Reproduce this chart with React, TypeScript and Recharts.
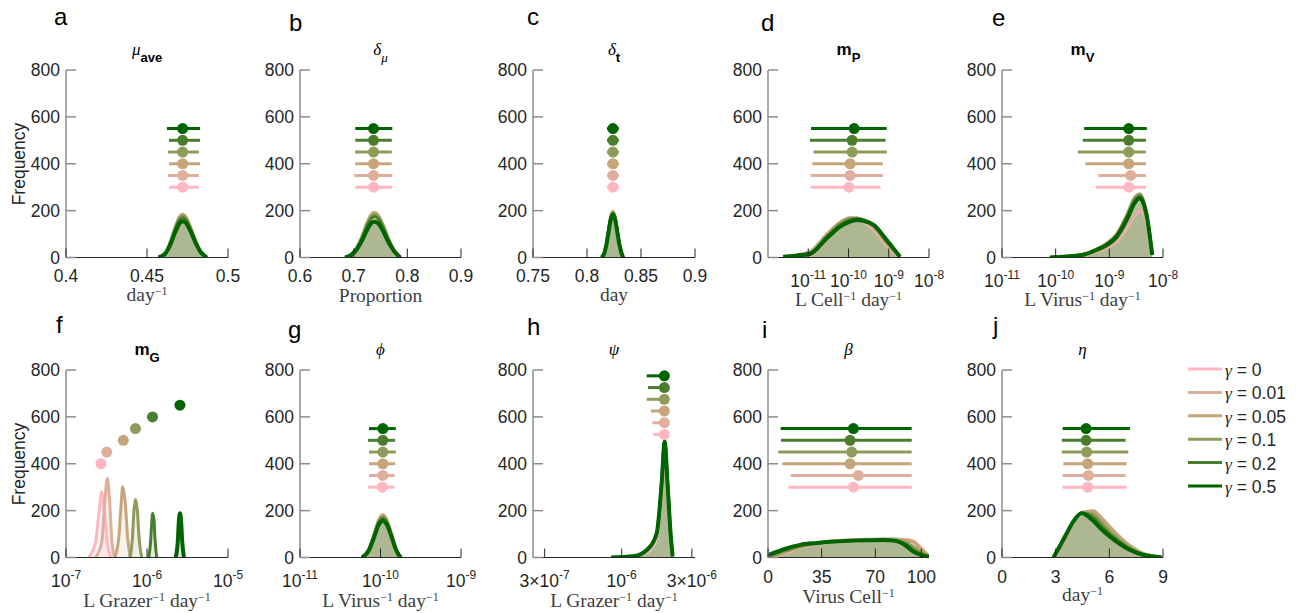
import React from 'react';
import { ComposedChart, Area, Line, Scatter, ErrorBar, XAxis, YAxis } from 'recharts';

const GAMMAS = ['0', '0.01', '0.05', '0.1', '0.2', '0.5'];
const COLORS = ['#FFB6C1', '#DFAE9C', '#C6A57B', '#8F9B5A', '#4A7E2E', '#006400'];
const FREQ_TICKS = [0, 200, 400, 600, 800];
const ROWS_STD = [300, 350, 400, 450, 500, 550];
const ROWS_F = [400, 450, 500, 550, 600, 650];
const ROWS_H = [525, 575, 625, 675, 725, 775];

const SANS = '"Liberation Sans", Arial, sans-serif';
const SERIF = '"Liberation Serif", "DejaVu Serif", serif';

// a: mu_ave
const A_X = [0.457, 0.461, 0.464, 0.467, 0.47, 0.472, 0.474, 0.477, 0.48, 0.483, 0.487];
const A_Y = [
  [0, 16, 54, 110, 158, 168, 158, 116, 64, 25, 0],
  [0, 17, 57, 116, 166, 176, 166, 122, 68, 26, 0],
  [0, 18, 60, 122, 174, 185, 174, 128, 72, 28, 0],
  [0, 17, 58, 118, 168, 178, 168, 124, 70, 28, 0],
  [0, 16, 55, 112, 160, 170, 160, 118, 66, 26, 0],
  [0, 14, 48, 100, 145, 155, 148, 110, 62, 24, 0],
];
const A_MID = [0.472, 0.472, 0.472, 0.472, 0.472, 0.472];
const A_LO = [0.4636, 0.463, 0.4636, 0.463, 0.4636, 0.4623];
const A_HI = [0.482, 0.482, 0.4827, 0.482, 0.4827, 0.4827];

// b: delta_mu
const B_X = [0.684, 0.695, 0.705, 0.715, 0.725, 0.732, 0.739, 0.746, 0.755, 0.765, 0.775, 0.787];
const B_Y = [
  [0, 11, 36, 80, 136, 166, 176, 166, 129, 75, 31, 0],
  [0, 11, 38, 85, 143, 175, 185, 174, 135, 78, 32, 0],
  [0, 12, 40, 88, 150, 182, 193, 181, 140, 80, 33, 0],
  [0, 12, 38, 84, 142, 173, 183, 172, 133, 77, 32, 0],
  [0, 11, 36, 80, 135, 165, 175, 165, 128, 74, 31, 0],
  [0, 10, 32, 70, 118, 145, 153, 145, 112, 65, 28, 0],
];
const B_MID = [0.737, 0.737, 0.737, 0.737, 0.737, 0.737];
const B_LO = [0.703, 0.701, 0.703, 0.703, 0.703, 0.703];
const B_HI = [0.771, 0.772, 0.771, 0.771, 0.771, 0.772];

// c: delta_t
const C_X = [0.8135, 0.816, 0.818, 0.82, 0.822, 0.824, 0.826, 0.828, 0.83, 0.832, 0.8335];
const C_Y = [
  [0, 19, 58, 116, 170, 190, 170, 116, 58, 19, 0],
  [0, 19, 59, 118, 173, 194, 173, 118, 59, 19, 0],
  [0, 20, 60, 120, 176, 197, 176, 120, 60, 20, 0],
  [0, 19, 58, 117, 172, 192, 172, 117, 58, 19, 0],
  [0, 19, 57, 114, 168, 188, 168, 114, 57, 19, 0],
  [0, 18, 55, 110, 162, 182, 162, 110, 55, 18, 0],
];
const C_MID = [0.824, 0.824, 0.824, 0.824, 0.824, 0.824];
const C_LO = [0.8185, 0.8185, 0.8185, 0.8185, 0.8185, 0.8185];
const C_HI = [0.8295, 0.8295, 0.8295, 0.8295, 0.8295, 0.8295];

// d: m_P
const D_X = [2.4e-12, 5e-12, 1.1e-11, 2.9e-11, 6.2e-11, 1.05e-10, 1.6e-10, 2.5e-10, 4.2e-10, 8.9e-10, 1.9e-9];
const D_Y = [
  [3, 10, 25, 100, 150, 168, 165, 150, 120, 50, 2],
  [3, 10, 25, 100, 150, 168, 166, 152, 124, 55, 2],
  [3, 10, 24, 98, 150, 170, 170, 158, 130, 60, 2],
  [3, 9, 20, 92, 145, 165, 168, 160, 135, 65, 3],
  [3, 9, 18, 88, 140, 160, 165, 158, 137, 70, 3],
  [3, 8, 15, 82, 132, 152, 160, 155, 139, 75, 3],
];
const D_MID = [1.02e-10, 1.1e-10, 1.1e-10, 1.23e-10, 1.23e-10, 1.38e-10];
const D_LO = [1.15e-11, 1.15e-11, 1.26e-11, 1.35e-11, 1.1e-11, 1.17e-11];
const D_HI = [6.3e-10, 7.1e-10, 7.1e-10, 8.9e-10, 8.3e-10, 8.9e-10];

// e: m_V
const E_X = [7.8e-11, 1.6e-10, 3.3e-10, 5.8e-10, 8.9e-10, 1.38e-9, 2.1e-9, 3.0e-9, 3.7e-9, 5.0e-9, 6.3e-9];
const E_Y = [
  [0, 3, 9, 24, 40, 68, 125, 180, 200, 148, 10],
  [0, 3, 10, 25, 42, 72, 130, 185, 205, 150, 10],
  [0, 5, 14, 36, 60, 102, 180, 258, 272, 185, 12],
  [0, 5, 14, 36, 60, 100, 178, 255, 268, 182, 12],
  [0, 4, 13, 34, 56, 95, 170, 245, 262, 180, 12],
  [0, 4, 12, 32, 53, 89, 160, 235, 253, 174, 11],
];
const E_MID = [2.3e-9, 2.5e-9, 2.3e-9, 2.3e-9, 2.3e-9, 2.3e-9];
const E_LO = [5.6e-10, 6.2e-10, 3.6e-10, 2.6e-10, 3.2e-10, 3.4e-10];
const E_HI = [4.8e-9, 4.8e-9, 4.8e-9, 4.8e-9, 4.8e-9, 5.0e-9];

// f: m_G (each gamma has its own support)
const F_X = [
  [1.9e-7, 2.3e-7, 2.57e-7, 2.75e-7, 2.95e-7, 3.24e-7, 3.55e-7],
  [2.3e-7, 2.75e-7, 3.0e-7, 3.24e-7, 3.47e-7, 3.7e-7, 4.0e-7],
  [4.0e-7, 4.5e-7, 4.8e-7, 5.0e-7, 5.4e-7, 5.75e-7, 6.2e-7],
  [6.2e-7, 6.6e-7, 6.9e-7, 7.2e-7, 7.6e-7, 8.0e-7, 8.6e-7],
  [1.05e-6, 1.11e-6, 1.15e-6, 1.17e-6, 1.22e-6, 1.26e-6, 1.32e-6],
  [2.26e-6, 2.4e-6, 2.48e-6, 2.55e-6, 2.63e-6, 2.72e-6, 2.86e-6],
];
const F_Y = [
  [0, 60, 200, 280, 210, 60, 0],
  [0, 60, 230, 338, 230, 60, 0],
  [0, 90, 230, 302, 230, 90, 0],
  [0, 80, 200, 248, 200, 80, 0],
  [0, 70, 160, 189, 160, 70, 0],
  [0, 70, 160, 189, 160, 70, 0],
];
const F_MID = [2.7e-7, 3.18e-7, 5.1e-7, 7.2e-7, 1.17e-6, 2.55e-6];
const F_LO = [2.45e-7, 2.95e-7, 4.9e-7, 7.0e-7, 1.15e-6, 2.5e-6];
const F_HI = [2.8e-7, 3.6e-7, 5.3e-7, 7.4e-7, 1.2e-6, 2.6e-6];

// g: phi
const G_X = [5.9e-11, 7.1e-11, 8.3e-11, 9.5e-11, 1.07e-10, 1.2e-10, 1.38e-10, 1.58e-10, 1.78e-10];
const G_Y = [
  [0, 31, 95, 156, 176, 156, 95, 31, 0],
  [0, 32, 97, 159, 180, 159, 97, 32, 0],
  [0, 32, 98, 161, 182, 161, 98, 32, 0],
  [0, 31, 94, 154, 174, 154, 94, 31, 0],
  [0, 30, 90, 148, 167, 148, 90, 30, 0],
  [0, 28, 85, 140, 157, 140, 85, 28, 0],
];
const G_MID = [1.05e-10, 1.07e-10, 1.07e-10, 1.07e-10, 1.07e-10, 1.07e-10];
const G_LO = [7.0e-11, 7.2e-11, 7.2e-11, 7.2e-11, 7.0e-11, 7.2e-11];
const G_HI = [1.5e-10, 1.5e-10, 1.52e-10, 1.55e-10, 1.52e-10, 1.55e-10];

// h: psi
const H_X = [8.5e-7, 1.2e-6, 1.48e-6, 1.73e-6, 1.87e-6, 1.96e-6, 2.05e-6, 2.15e-6, 2.22e-6];
const H_Y = [
  [0, 3, 20, 80, 280, 420, 300, 90, 5],
  [0, 4, 24, 90, 300, 460, 310, 95, 5],
  [0, 4, 28, 100, 320, 500, 320, 100, 5],
  [0, 4, 28, 100, 318, 495, 318, 100, 5],
  [0, 5, 30, 102, 318, 495, 318, 102, 5],
  [0, 5, 32, 103, 317, 494, 317, 103, 5],
];
const H_MID = [1.95e-6, 1.95e-6, 1.95e-6, 1.95e-6, 1.95e-6, 1.95e-6];
const H_LO = [1.64e-6, 1.62e-6, 1.58e-6, 1.48e-6, 1.51e-6, 1.48e-6];
const H_HI = [2.1e-6, 2.1e-6, 2.1e-6, 2.1e-6, 2.1e-6, 2.1e-6];

// i: beta
const I_X = [0, 6, 12, 21, 32, 43, 55, 65, 75, 82, 86, 90, 95, 100, 105];
const I_Y = [
  [0, 8, 20, 40, 58, 68, 74, 77, 78, 78, 77, 76, 70, 40, 5],
  [0, 9, 22, 42, 60, 70, 76, 78, 79, 79, 78, 76, 68, 38, 5],
  [0, 10, 24, 44, 60, 70, 75, 77, 78, 78, 76, 74, 65, 35, 5],
  [2, 14, 28, 47, 60, 68, 73, 75, 76, 75, 72, 65, 45, 22, 4],
  [6, 20, 34, 51, 61, 68, 72, 74, 75, 73, 68, 56, 32, 14, 3],
  [10, 25, 39, 54, 62, 68, 72, 74, 75, 72, 65, 50, 24, 10, 3],
];
const I_MID = [55.7, 58.9, 53.5, 54.6, 53.5, 55.7];
const I_LO = [13.3, 14.8, 9.3, 6.7, 8.5, 8.3];
const I_HI = [93.7, 93.7, 93.7, 93.7, 93.7, 93.7];

// j: eta
const J_X = [2.87, 3.2, 3.61, 4.0, 4.45, 5.1, 5.5, 6.04, 6.5, 6.97, 7.4, 7.9, 8.4, 8.93];
const J_Y = [
  [0, 36, 90, 148, 185, 190, 162, 120, 86, 55, 33, 16, 7, 0],
  [0, 38, 92, 150, 190, 195, 168, 125, 90, 58, 35, 17, 7, 0],
  [0, 35, 90, 150, 192, 200, 175, 131, 95, 62, 38, 18, 8, 0],
  [0, 40, 96, 152, 190, 185, 155, 112, 80, 50, 30, 14, 6, 0],
  [0, 42, 100, 154, 190, 172, 140, 100, 72, 45, 27, 12, 5, 0],
  [0, 45, 103, 155, 189, 157, 125, 89, 62, 39, 24, 11, 5, 0],
];
const J_MID = [4.79, 4.83, 4.79, 4.73, 4.7, 4.7];
const J_LO = [3.39, 3.39, 3.43, 3.34, 3.34, 3.39];
const J_HI = [6.97, 6.91, 6.97, 7.06, 6.91, 7.15];

type Seg = { t: string; kind?: 'it' | 'bold'; sub?: boolean; sup?: boolean };

type PanelDef = {
  letter: string;
  letterX: number;
  letterY: number;
  left: number;
  top: number;
  width: number;
  domain: [number, number];
  log?: boolean;
  ticks: number[];
  tickLabels: string[];
  tickY: number;
  xs: number[][];
  ys: number[][];
  mid: number[];
  lo: number[];
  hi: number[];
  rows: number[];
  title: Seg[];
  xlabel: Seg[];
  xlabelY: number;
};

const same = (a: number[]) => [a, a, a, a, a, a];
const dayInv: Seg[] = [{ t: 'day' }, { t: '−1', sup: true }];
const perDay = (what: string): Seg[] => [
  { t: 'L ' + what },
  { t: '−1', sup: true },
  { t: ' day' },
  { t: '−1', sup: true },
];

const PANELS: PanelDef[] = [
  {
    letter: 'a', letterX: 54, letterY: 25, left: 66, top: 0, width: 162,
    domain: [0.4, 0.5], ticks: [0.4, 0.45, 0.5], tickLabels: ['0.4', '0.45', '0.5'], tickY: 282,
    xs: same(A_X), ys: A_Y, mid: A_MID, lo: A_LO, hi: A_HI, rows: ROWS_STD,
    title: [{ t: 'μ', kind: 'it' }, { t: 'ave', kind: 'bold', sub: true }],
    xlabel: dayInv, xlabelY: 301,
  },
  {
    letter: 'b', letterX: 289, letterY: 31, left: 300, top: 0, width: 161,
    domain: [0.6, 0.9], ticks: [0.6, 0.7, 0.8, 0.9], tickLabels: ['0.6', '0.7', '0.8', '0.9'], tickY: 282,
    xs: same(B_X), ys: B_Y, mid: B_MID, lo: B_LO, hi: B_HI, rows: ROWS_STD,
    title: [{ t: 'δ', kind: 'it' }, { t: 'μ', kind: 'it', sub: true }],
    xlabel: [{ t: 'Proportion' }], xlabelY: 302,
  },
  {
    letter: 'c', letterX: 527, letterY: 25, left: 533, top: 0, width: 162,
    domain: [0.75, 0.9], ticks: [0.75, 0.8, 0.85, 0.9], tickLabels: ['0.75', '0.8', '0.85', '0.9'], tickY: 282,
    xs: same(C_X), ys: C_Y, mid: C_MID, lo: C_LO, hi: C_HI, rows: ROWS_STD,
    title: [{ t: 'δ', kind: 'it' }, { t: 't', kind: 'bold', sub: true }],
    xlabel: [{ t: 'day' }], xlabelY: 301,
  },
  {
    letter: 'd', letterX: 761, letterY: 31, left: 768, top: 0, width: 161, log: true,
    domain: [1e-12, 1e-8], ticks: [1e-11, 1e-10, 1e-9, 1e-8],
    tickLabels: ['10^-11', '10^-10', '10^-9', '10^-8'], tickY: 287,
    xs: same(D_X), ys: D_Y, mid: D_MID, lo: D_LO, hi: D_HI, rows: ROWS_STD,
    title: [{ t: 'm', kind: 'bold' }, { t: 'P', kind: 'bold', sub: true }],
    xlabel: perDay('Cell'), xlabelY: 306,
  },
  {
    letter: 'e', letterX: 992, letterY: 26, left: 1002, top: 0, width: 161, log: true,
    domain: [1e-11, 1e-8], ticks: [1e-11, 1e-10, 1e-9, 1e-8],
    tickLabels: ['10^-11', '10^-10', '10^-9', '10^-8'], tickY: 287,
    xs: same(E_X), ys: E_Y, mid: E_MID, lo: E_LO, hi: E_HI, rows: ROWS_STD,
    title: [{ t: 'm', kind: 'bold' }, { t: 'V', kind: 'bold', sub: true }],
    xlabel: perDay('Virus'), xlabelY: 306,
  },
  {
    letter: 'f', letterX: 56, letterY: 333, left: 66, top: 300, width: 162, log: true,
    domain: [1e-7, 1e-5], ticks: [1e-7, 1e-6, 1e-5], tickLabels: ['10^-7', '10^-6', '10^-5'], tickY: 587,
    xs: F_X, ys: F_Y, mid: F_MID, lo: F_LO, hi: F_HI, rows: ROWS_F,
    title: [{ t: 'm', kind: 'bold' }, { t: 'G', kind: 'bold', sub: true }],
    xlabel: perDay('Grazer'), xlabelY: 607,
  },
  {
    letter: 'g', letterX: 288, letterY: 338, left: 300, top: 300, width: 161, log: true,
    domain: [1e-11, 1e-9], ticks: [1e-11, 1e-10, 1e-9], tickLabels: ['10^-11', '10^-10', '10^-9'], tickY: 587,
    xs: same(G_X), ys: G_Y, mid: G_MID, lo: G_LO, hi: G_HI, rows: ROWS_STD,
    title: [{ t: 'ϕ', kind: 'it' }],
    xlabel: perDay('Virus'), xlabelY: 607,
  },
  {
    letter: 'h', letterX: 527, letterY: 335, left: 533, top: 300, width: 162, log: true,
    domain: [2.5e-7, 3.15e-6], ticks: [3e-7, 1e-6, 3e-6], tickLabels: ['3×10^-7', '10^-6', '3×10^-6'], tickY: 587,
    xs: same(H_X), ys: H_Y, mid: H_MID, lo: H_LO, hi: H_HI, rows: ROWS_H,
    title: [{ t: 'ψ', kind: 'it' }],
    xlabel: perDay('Grazer'), xlabelY: 607,
  },
  {
    letter: 'i', letterX: 762, letterY: 338, left: 768, top: 300, width: 161,
    domain: [0, 105], ticks: [0, 35, 70, 100], tickLabels: ['0', '35', '70', '100'], tickY: 583,
    xs: same(I_X), ys: I_Y, mid: I_MID, lo: I_LO, hi: I_HI, rows: ROWS_STD,
    title: [{ t: 'β', kind: 'it' }],
    xlabel: [{ t: 'Virus Cell' }, { t: '−1', sup: true }], xlabelY: 603,
  },
  {
    letter: 'j', letterX: 993, letterY: 334, left: 1002, top: 300, width: 161,
    domain: [0, 9], ticks: [0, 3, 6, 9], tickLabels: ['0', '3', '6', '9'], tickY: 583,
    xs: same(J_X), ys: J_Y, mid: J_MID, lo: J_LO, hi: J_HI, rows: ROWS_STD,
    title: [{ t: 'η', kind: 'it' }],
    xlabel: dayInv, xlabelY: 601,
  },
];

function XTick(props: any) {
  const { x, y, payload, p } = props;
  const i = p.ticks.indexOf(payload.value);
  const label: string = i >= 0 ? p.tickLabels[i] : String(payload.value);
  const [base, exp] = label.split('^');
  return (
    <g>
      <line x1={x} x2={x} y1={y} y2={y - 9} stroke="#262626" strokeWidth={1} />
      <text x={x} y={p.tickY - p.top} textAnchor="middle" fontFamily={SANS} fontSize={17.5} fill="#262626">
        {base}
        {exp && (
          <tspan dy={-8} fontSize={12}>
            {exp}
          </tspan>
        )}
      </text>
    </g>
  );
}

function YTick(props: any) {
  const { x, y, payload } = props;
  return (
    <g>
      <line x1={x} x2={x + 10} y1={y} y2={y} stroke="#8c8c8c" strokeWidth={1.5} />
      <text x={x - 6} y={y + 6} textAnchor="end" fontFamily={SANS} fontSize={17.5} fill="#262626">
        {payload.value}
      </text>
    </g>
  );
}

function SegText({ segs, x, y, size, anchor = 'middle', fill = '#000', subSize, shiftUp = 7, shiftDown = 7 }: any) {
  let shift = 0;
  return (
    <text x={x} y={y} textAnchor={anchor} fill={fill} style={{ whiteSpace: 'pre' }}>
      {segs.map((s: Seg, k: number) => {
        const target = s.sup ? -shiftUp : s.sub ? shiftDown : 0;
        const dy = target - shift;
        shift = target;
        const small = s.sup || s.sub;
        return (
          <tspan
            key={k}
            dy={dy}
            fontFamily={s.kind === 'bold' ? SANS : SERIF}
            fontWeight={s.kind === 'bold' ? 'bold' : 'normal'}
            fontStyle={s.kind === 'it' ? 'italic' : 'normal'}
            fontSize={small ? subSize ?? size * 0.72 : size}
          >
            {s.t}
          </tspan>
        );
      })}
    </text>
  );
}

function PanelChart({ p }: { p: PanelDef }) {
  const series = GAMMAS.map((_, g) => p.xs[g].map((x, i) => ({ x, y: p.ys[g][i] })));
  const points = GAMMAS.map((_, g) => [
    { x: p.mid[g], y: p.rows[g], ex: [p.mid[g] - p.lo[g], p.hi[g] - p.mid[g]] },
  ]);
  return (
    <div style={{ position: 'absolute', left: p.left - 60, top: p.top }}>
      <ComposedChart width={60 + p.width + 40} height={300} margin={{ top: 70, right: 40, bottom: 12.5, left: 0 }}>
        <XAxis
          type="number"
          dataKey="x"
          domain={p.domain}
          scale={p.log ? 'log' : 'linear'}
          allowDataOverflow
          ticks={p.ticks}
          interval={0}
          tickLine={false}
          tickSize={0}
          tickMargin={0}
          height={30}
          axisLine={{ stroke: '#262626', strokeWidth: 1 }}
          tick={(tp: any) => <XTick {...tp} p={p} />}
        />
        <YAxis
          type="number"
          domain={[0, 800]}
          ticks={FREQ_TICKS}
          allowDataOverflow
          width={60}
          interval={0}
          tickLine={false}
          tickSize={0}
          tickMargin={0}
          axisLine={{ stroke: '#8c8c8c', strokeWidth: 1.5 }}
          tick={(tp: any) => <YTick {...tp} />}
        />
        {GAMMAS.map((gm, g) => (
          <Area
            key={'a' + gm}
            data={series[g]}
            dataKey="y"
            type="monotone"
            stroke="none"
            fill={COLORS[g]}
            fillOpacity={0.15}
            isAnimationActive={false}
          />
        ))}
        {GAMMAS.map((gm, g) => (
          <Line
            key={'l' + gm}
            data={series[g]}
            dataKey="y"
            type="monotone"
            stroke={COLORS[g]}
            strokeWidth={g === 5 ? 4 : 3}
            dot={false}
            isAnimationActive={false}
          />
        ))}
        {GAMMAS.map((gm, g) => (
          <Scatter
            key={'s' + gm}
            data={points[g]}
            dataKey="y"
            fill={COLORS[g]}
            isAnimationActive={false}
            shape={(sp: any) => <circle cx={sp.cx} cy={sp.cy} r={5.5} fill={COLORS[g]} />}
          >
            <ErrorBar dataKey="ex" direction="x" width={0} stroke={COLORS[g]} strokeWidth={3} isAnimationActive={false} />
          </Scatter>
        ))}
      </ComposedChart>
    </div>
  );
}

export default function App() {
  return (
    <div style={{ position: 'absolute', left: 0, top: 0, width: 1302, height: 613, background: '#fff' }}>
      {PANELS.map((p) => (
        <PanelChart key={p.letter} p={p} />
      ))}
      <svg width={1302} height={613} style={{ position: 'absolute', left: 0, top: 0, pointerEvents: 'none' }}>
        {PANELS.map((p) => (
          <g key={p.letter}>
            <text x={p.letterX} y={p.letterY} fontFamily={SANS} fontSize={24} fill="#000">
              {p.letter}
            </text>
            <SegText segs={p.title} x={p.left + p.width / 2} y={p.top + 55} size={17} subSize={13} />
            <SegText
              segs={p.xlabel}
              x={p.left + p.width / 2}
              y={p.xlabelY}
              size={19.5}
              subSize={12}
              shiftUp={6.5}
              fill="#404040"
            />
          </g>
        ))}
        {[164, 464].map((cy) => (
          <text
            key={cy}
            transform={`translate(25,${cy}) rotate(-90)`}
            textAnchor="middle"
            fontFamily={SANS}
            fontSize={17.5}
            fill="#262626"
          >
            Frequency
          </text>
        ))}
        {GAMMAS.map((gm, g) => {
          const y = 369 + g * 23.4;
          return (
            <g key={gm}>
              <line x1={1188} x2={1222} y1={y} y2={y} stroke={COLORS[g]} strokeWidth={3} />
              <text x={1225} y={y + 7} fontSize={17.5} fill="#262626">
                <tspan fontFamily={SERIF} fontStyle="italic">
                  γ
                </tspan>
                <tspan fontFamily={SANS}>{' = ' + gm}</tspan>
              </text>
            </g>
          );
        })}
      </svg>
    </div>
  );
}
